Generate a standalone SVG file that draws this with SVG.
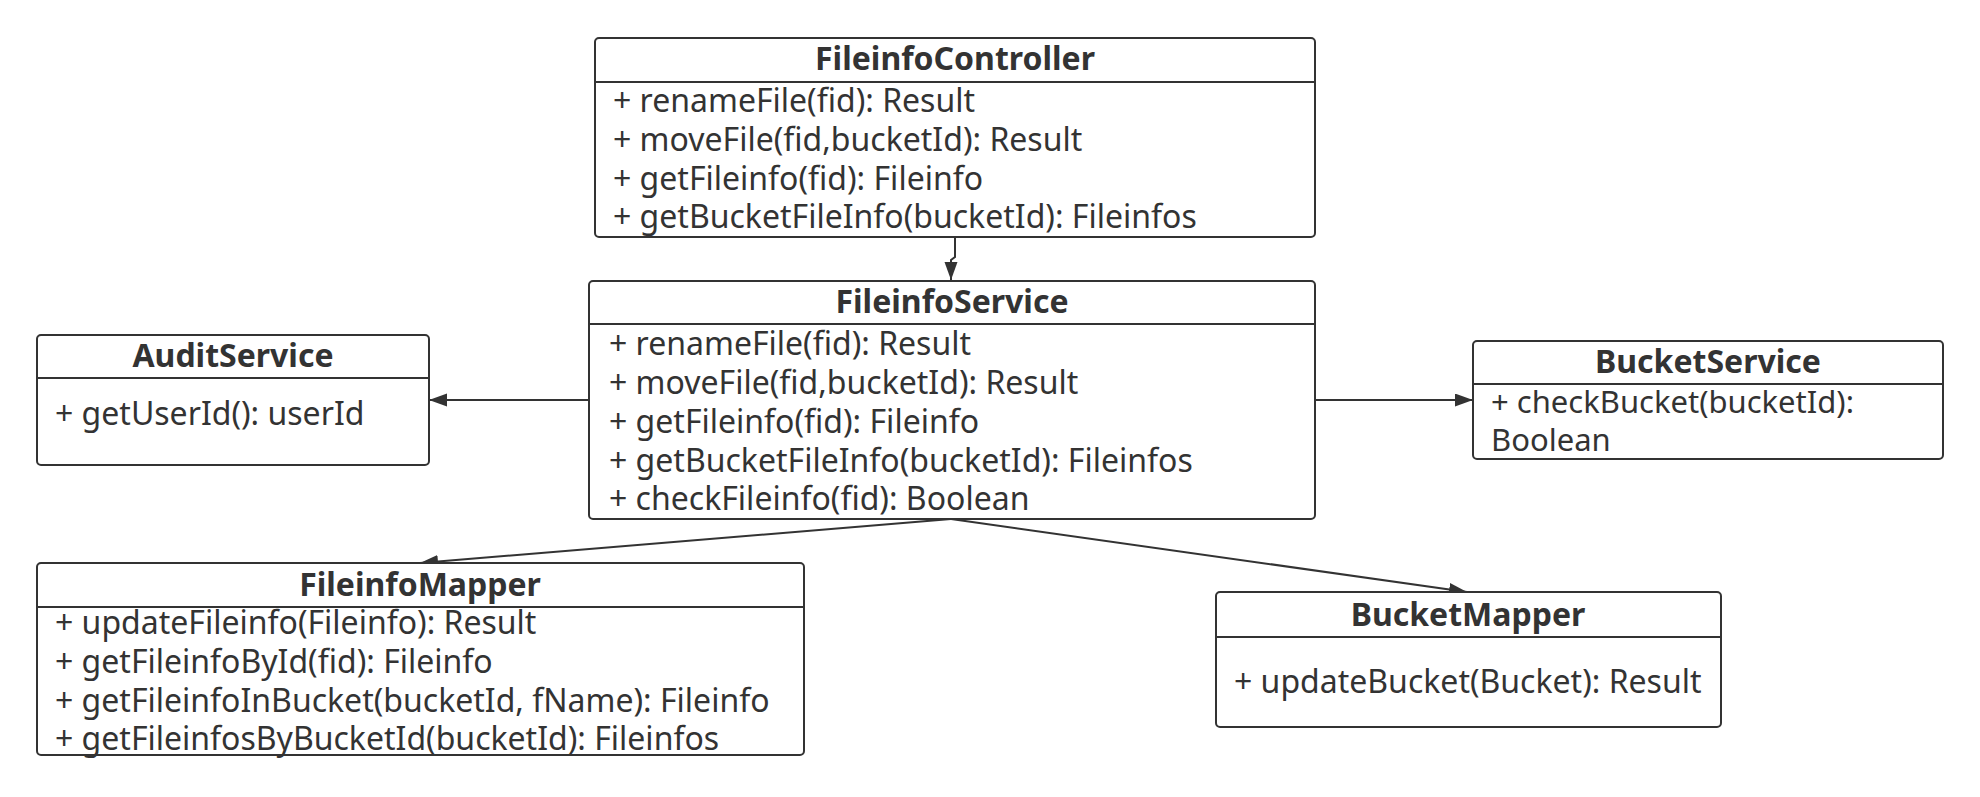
<svg xmlns="http://www.w3.org/2000/svg" width="1980" height="797" viewBox="0 0 1980 797">
<style>
  .box { fill: #ffffff; stroke: #333333; stroke-width: 2; }
  .div { stroke: #333333; stroke-width: 2; }
  .title { font-family: "Noto Sans", "Open Sans", sans-serif; font-weight: bold; font-size: 32px; fill: #333333; text-anchor: middle; }
  .m { font-family: "Noto Sans", "Open Sans", sans-serif; font-size: 32px; fill: #333333; }
  .m2 { font-family: "Noto Sans", "Open Sans", sans-serif; font-size: 31px; fill: #333333; }
  .edge { fill: none; stroke: #333333; stroke-width: 2; }
</style>
<defs>
  <marker id="arr" markerUnits="userSpaceOnUse" markerWidth="20" markerHeight="14" refX="18" refY="6.5" orient="auto">
    <path d="M0,0 L18,6.5 L0,13 z" fill="#333333"/>
  </marker>
</defs>
<rect x="0" y="0" width="1980" height="797" fill="#ffffff"/>

<g id="connectors">
  <path class="edge" d="M955,237 V257 L951,260 V280" marker-end="url(#arr)"/>
  <path class="edge" d="M589,400 H429" marker-end="url(#arr)"/>
  <path class="edge" d="M1315,400 H1473" marker-end="url(#arr)"/>
  <path class="edge" d="M951,519 L420,563" marker-end="url(#arr)"/>
  <path class="edge" d="M951,519 L1467,592" marker-end="url(#arr)"/>
</g>

<g id="FileinfoController">
  <rect class="box" x="595" y="38" width="720" height="199" rx="4"/>
  <line class="div" x1="595" y1="82" x2="1315" y2="82"/>
  <text class="title" x="955" y="70">FileinfoController</text>
  <text class="m" x="613" y="112">+ renameFile(fid): Result</text>
  <text class="m" x="613" y="151">+ moveFile(fid,bucketId): Result</text>
  <text class="m" x="613" y="190">+ getFileinfo(fid): Fileinfo</text>
  <text class="m" x="613" y="228">+ getBucketFileInfo(bucketId): Fileinfos</text>
</g>

<g id="FileinfoService">
  <rect class="box" x="589" y="281" width="726" height="238" rx="4"/>
  <line class="div" x1="589" y1="324" x2="1315" y2="324"/>
  <text class="title" x="952" y="313">FileinfoService</text>
  <text class="m" x="609" y="355">+ renameFile(fid): Result</text>
  <text class="m" x="609" y="394">+ moveFile(fid,bucketId): Result</text>
  <text class="m" x="609" y="433">+ getFileinfo(fid): Fileinfo</text>
  <text class="m" x="609" y="472">+ getBucketFileInfo(bucketId): Fileinfos</text>
  <text class="m" x="609" y="510">+ checkFileinfo(fid): Boolean</text>
</g>

<g id="AuditService">
  <rect class="box" x="37" y="335" width="392" height="130" rx="4"/>
  <line class="div" x1="37" y1="378" x2="429" y2="378"/>
  <text class="title" x="233" y="367">AuditService</text>
  <text class="m" x="55" y="425">+ getUserId(): userId</text>
</g>

<g id="BucketService">
  <rect class="box" x="1473" y="341" width="470" height="118" rx="4"/>
  <line class="div" x1="1473" y1="384" x2="1943" y2="384"/>
  <text class="title" x="1708" y="373">BucketService</text>
  <text class="m2" x="1491" y="413">+ checkBucket(bucketId):</text>
  <text class="m2" x="1491" y="451">Boolean</text>
</g>

<g id="FileinfoMapper">
  <rect class="box" x="37" y="563" width="767" height="192" rx="4"/>
  <line class="div" x1="37" y1="607" x2="804" y2="607"/>
  <text class="title" x="420" y="596">FileinfoMapper</text>
  <text class="m" x="55" y="634">+ updateFileinfo(Fileinfo): Result</text>
  <text class="m" x="55" y="673">+ getFileinfoById(fid): Fileinfo</text>
  <text class="m" x="55" y="712">+ getFileinfoInBucket(bucketId, fName): Fileinfo</text>
  <text class="m" x="55" y="750">+ getFileinfosByBucketId(bucketId): Fileinfos</text>
</g>

<g id="BucketMapper">
  <rect class="box" x="1216" y="592" width="505" height="135" rx="4"/>
  <line class="div" x1="1216" y1="637" x2="1721" y2="637"/>
  <text class="title" x="1468" y="626">BucketMapper</text>
  <text class="m" x="1234" y="693">+ updateBucket(Bucket): Result</text>
</g>
</svg>
